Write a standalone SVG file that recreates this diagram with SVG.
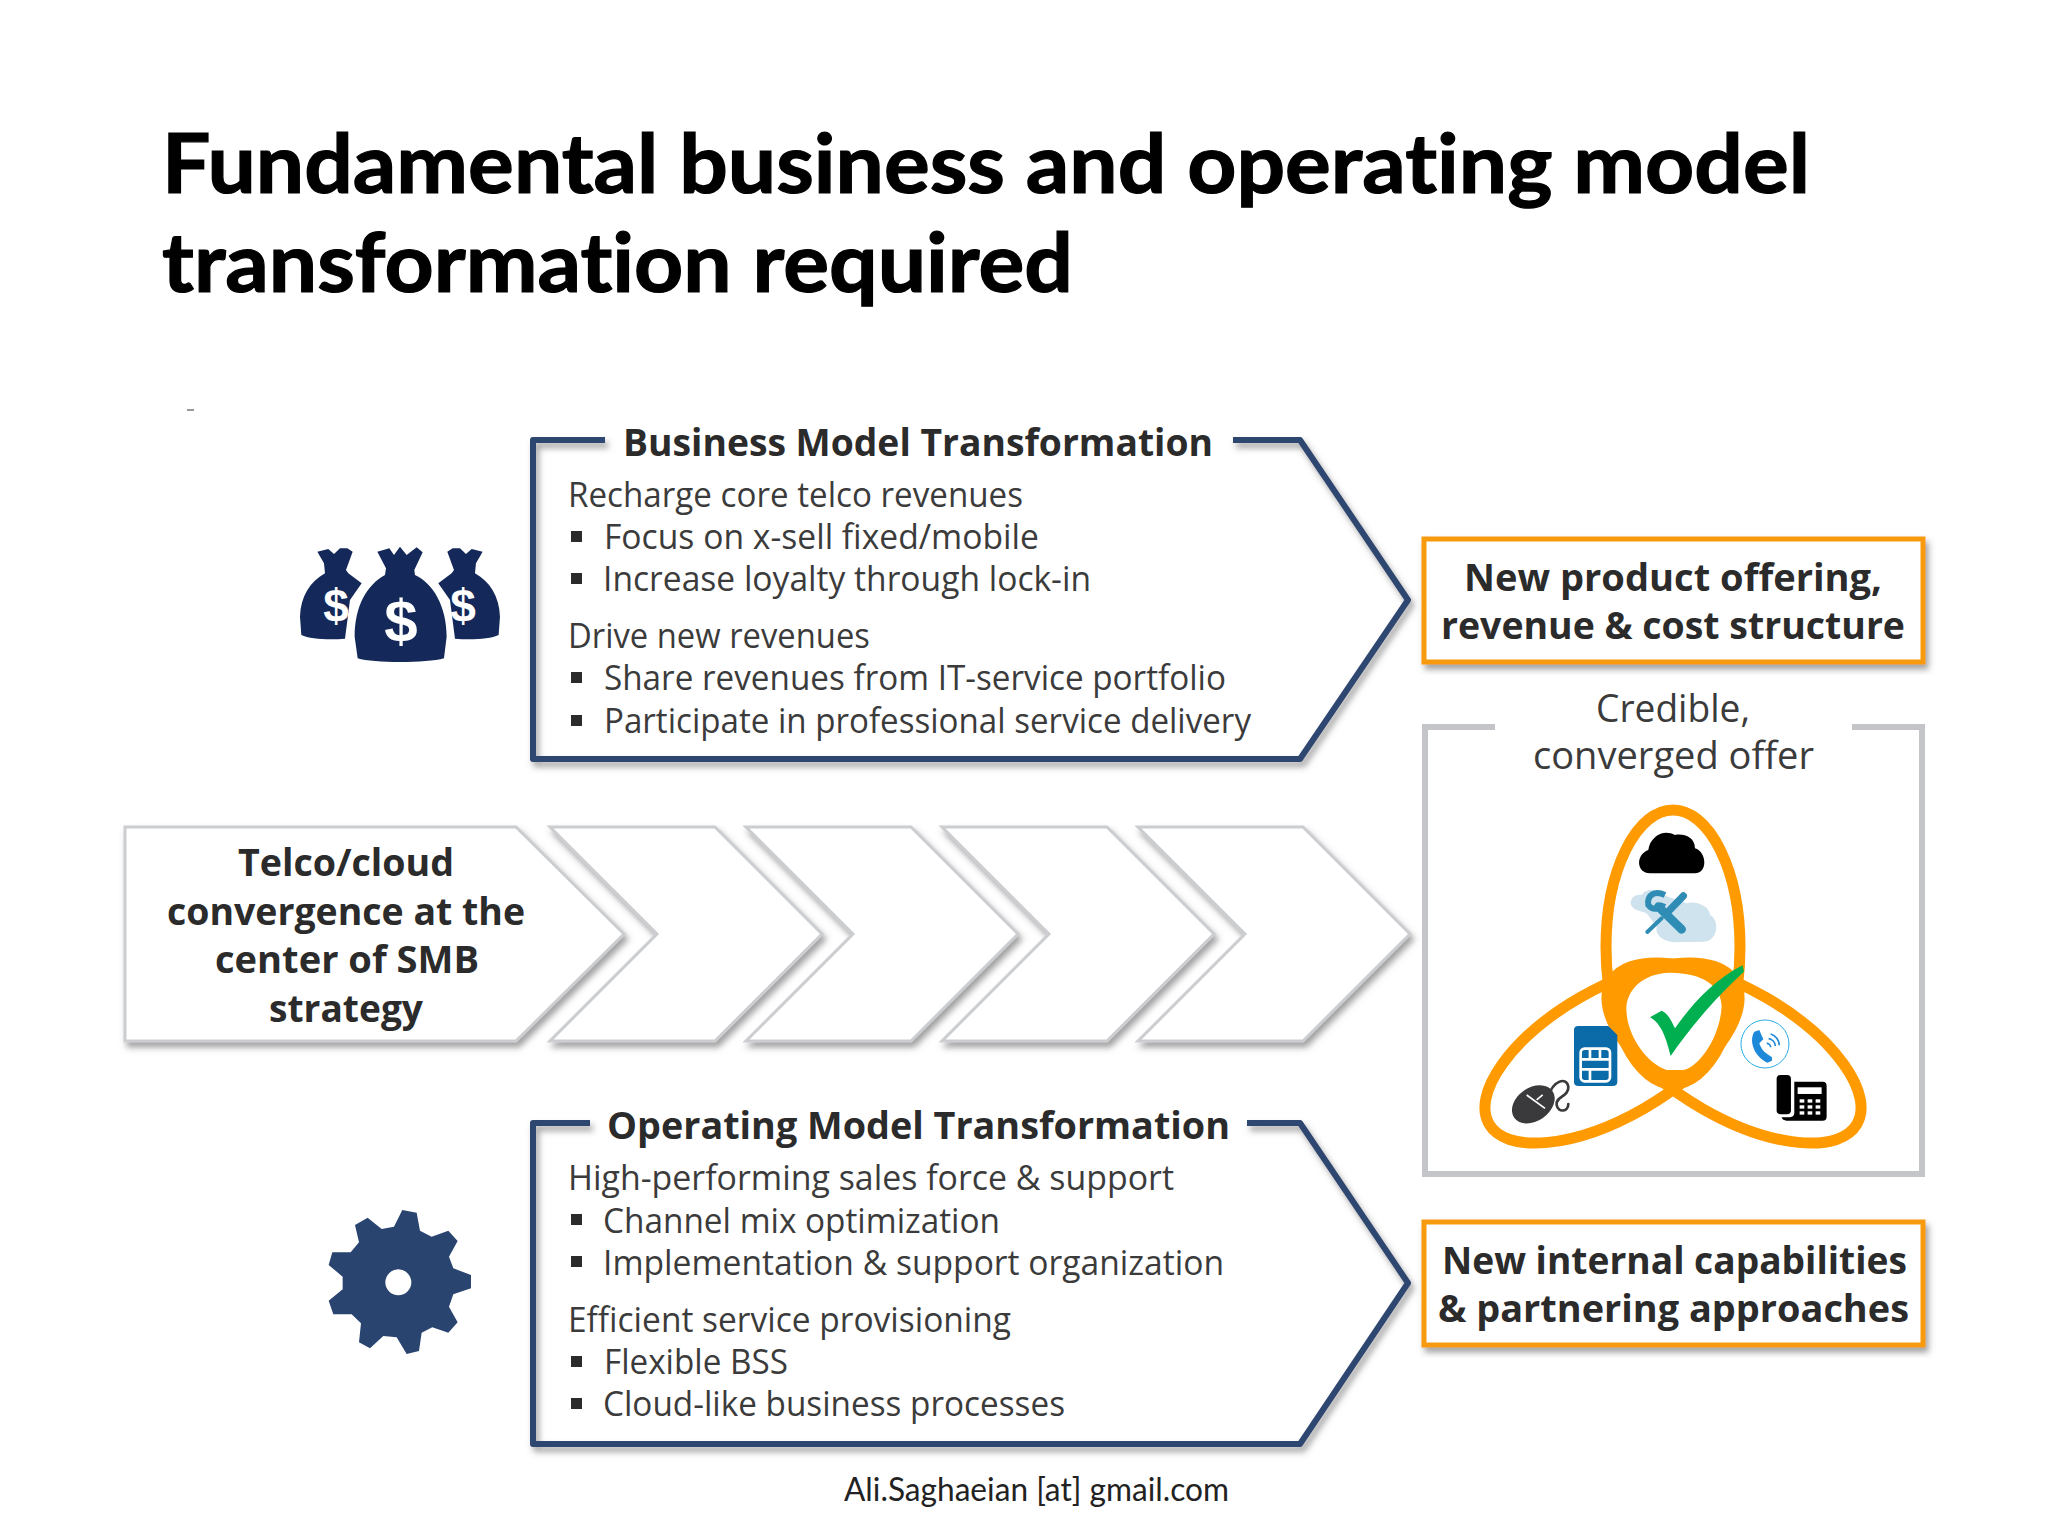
<svg xmlns="http://www.w3.org/2000/svg" width="2048" height="1536" viewBox="0 0 2048 1536">
<defs>
<filter id="sh" x="-5%" y="-5%" width="110%" height="115%"><feDropShadow dx="3" dy="5" stdDeviation="3" flood-color="#555" flood-opacity=".55"/></filter>
<path id="smallbag" d="M172 455L205 447L222 462L240 445L262 445L278 455L258 510L265 520L305 550L270 600L255 716C210 720 150 718 124 705L120 650C122 590 150 545 195 520L192 490Z"/>
</defs>
<style>
text{font-family:"Open Sans","Liberation Sans",sans-serif;fill:#2b2b2b}
.t{font-family:Lato,"Liberation Sans",sans-serif;font-weight:700;font-size:82px;fill:#000;stroke:#000;stroke-width:1.2;font-variant-ligatures:none}
.h{font-weight:700;font-size:37px}
.b{font-size:34px;fill:#3b3b3b}
.o{font-weight:700;font-size:38px}
.c{font-weight:700;font-size:37px}
.nav{fill:none;stroke:#2E4670;stroke-width:6;stroke-linejoin:round;filter:url(#sh)}
.chev{fill:#fff;stroke:#CBCDD0;stroke-width:3;filter:url(#sh)}
.org{fill:#fff;stroke:#F79A0E;stroke-width:5;filter:url(#sh)}
.ven{fill:none;stroke:#FF9A00;stroke-width:11}
.bul{fill:#2b2b2b}
.bag{fill:#14295A}
.dol{font-family:"Liberation Sans",sans-serif;font-weight:700;fill:#fff;text-anchor:middle}
</style>
<rect width="2048" height="1536" fill="#fff"/>
<g id="title">
<text class="t" x="162" y="193" textLength="1648" lengthAdjust="spacingAndGlyphs">Fundamental business and operating model</text>
<text class="t" x="162" y="292" textLength="911" lengthAdjust="spacingAndGlyphs">transformation required</text>
</g>
<rect x="187" y="409" width="7" height="2" fill="#999"/>
<g id="money-icon">
<g transform="translate(260 400) scale(.3333)">
<use href="#smallbag" class="bag"/>
<use href="#smallbag" class="bag" transform="translate(840 0) scale(-1 1)"/>
<path class="bag" stroke="#fff" stroke-width="30" paint-order="stroke" d="M352 455L388 445L402 465L420 440L440 465L470 442L488 457L463 510L465 525C520 550 560 620 560 710L552 775C500 790 340 790 293 775L284 710C284 620 320 555 375 525L378 505Z"/>
</g>
<text class="dol" x="336" y="622" font-size="46">$</text>
<text class="dol" x="463" y="622" font-size="46">$</text>
<text class="dol" x="401" y="642" font-size="60">$</text>
</g>
<g id="business-model">
<path class="nav" d="M605 440H533V759H1300L1408 600L1300 440H1233"/>
<text class="h" x="623" y="456" textLength="590" lengthAdjust="spacingAndGlyphs">Business Model Transformation</text>
<text class="b" x="568" y="507" textLength="455" lengthAdjust="spacingAndGlyphs">Recharge core telco revenues</text>
<rect class="bul" x="571" y="531" width="11" height="11"/>
<text class="b" x="604" y="549" textLength="435" lengthAdjust="spacingAndGlyphs">Focus on x-sell fixed/mobile</text>
<rect class="bul" x="571" y="573" width="11" height="11"/>
<text class="b" x="603" y="591" textLength="488" lengthAdjust="spacingAndGlyphs">Increase loyalty through lock-in</text>
<text class="b" x="568" y="648" textLength="302" lengthAdjust="spacingAndGlyphs">Drive new revenues</text>
<rect class="bul" x="571" y="672" width="11" height="11"/>
<text class="b" x="604" y="690" textLength="622" lengthAdjust="spacingAndGlyphs">Share revenues from IT-service portfolio</text>
<rect class="bul" x="571" y="715" width="11" height="11"/>
<text class="b" x="604" y="733" textLength="647" lengthAdjust="spacingAndGlyphs">Participate in professional service delivery</text>
</g>
<g id="chevrons">
<path id="chev5" class="chev" d="M1138 827H1303L1410 934L1303 1041H1138L1245 934Z"/>
<path id="chev4" class="chev" d="M942 827H1107L1214 934L1107 1041H942L1049 934Z"/>
<path id="chev3" class="chev" d="M746 827H911L1018 934L911 1041H746L853 934Z"/>
<path id="chev2" class="chev" d="M550 827H715L822 934L715 1041H550L657 934Z"/>
<path id="chev1" class="chev" d="M125 827H516L624 934L516 1041H125Z"/>
<text class="c" x="238" y="876" textLength="216" lengthAdjust="spacingAndGlyphs">Telco/cloud</text>
<text class="c" x="167" y="925" textLength="358" lengthAdjust="spacingAndGlyphs">convergence at the</text>
<text class="c" x="215" y="973" textLength="264" lengthAdjust="spacingAndGlyphs">center of SMB</text>
<text class="c" x="269" y="1022" textLength="154" lengthAdjust="spacingAndGlyphs">strategy</text>
</g>
<g id="operating-model">
<path class="nav" d="M590 1123H533V1444H1300L1408 1283L1300 1123H1247"/>
<text class="h" x="607" y="1139" textLength="623" lengthAdjust="spacingAndGlyphs">Operating Model Transformation</text>
<text class="b" x="568" y="1190" textLength="606" lengthAdjust="spacingAndGlyphs">High-performing sales force &amp; support</text>
<rect class="bul" x="571" y="1214" width="11" height="11"/>
<text class="b" x="603" y="1233" textLength="397" lengthAdjust="spacingAndGlyphs">Channel mix optimization</text>
<rect class="bul" x="571" y="1256" width="11" height="11"/>
<text class="b" x="603" y="1275" textLength="621" lengthAdjust="spacingAndGlyphs">Implementation &amp; support organization</text>
<text class="b" x="568" y="1332" textLength="443" lengthAdjust="spacingAndGlyphs">Efficient service provisioning</text>
<rect class="bul" x="571" y="1356" width="11" height="11"/>
<text class="b" x="604" y="1374" textLength="184" lengthAdjust="spacingAndGlyphs">Flexible BSS</text>
<rect class="bul" x="571" y="1398" width="11" height="11"/>
<text class="b" x="603" y="1416" textLength="462" lengthAdjust="spacingAndGlyphs">Cloud-like business processes</text>
</g>
<g id="gear-icon">
<path fill="#2A4470" fill-rule="evenodd" transform="translate(300 1180) scale(.3333)" d="M307 90L350 98L360 152L395 170L445 152L473 183L447 230L460 265L513 285L513 325L460 343L447 380L473 427L445 458L397 442L365 458L357 513L320 522L290 472L250 468L210 505L177 487L183 430L155 403L100 403L86 362L128 328L128 290L86 255L97 217L152 217L177 187L165 135L203 113L245 147L282 140ZM295 268A39 39 0 1 0 295 346A39 39 0 1 0 295 268Z"/>
</g>
<g id="new-product">
<rect class="org" x="1424" y="539" width="499" height="123"/>
<text class="o" x="1464" y="591" textLength="418" lengthAdjust="spacingAndGlyphs">New product offering,</text>
<text class="o" x="1441" y="639" textLength="464" lengthAdjust="spacingAndGlyphs">revenue &amp; cost structure</text>
</g>
<g id="new-internal">
<rect class="org" x="1424" y="1222" width="499" height="123"/>
<text class="o" x="1442" y="1274" textLength="465" lengthAdjust="spacingAndGlyphs">New internal capabilities</text>
<text class="o" x="1438" y="1322" textLength="471" lengthAdjust="spacingAndGlyphs">&amp; partnering approaches</text>
</g>
<g id="converged-offer">
<path d="M1495 727H1425V1174H1922V727H1852" fill="none" stroke="#C4C5C8" stroke-width="6"/>
<text class="b" x="1596" y="722" textLength="154" lengthAdjust="spacingAndGlyphs" style="font-size:38px">Credible,</text>
<text class="b" x="1533" y="769" textLength="281" lengthAdjust="spacingAndGlyphs" style="font-size:38px">converged offer</text>
<ellipse class="ven" cx="1673" cy="947" rx="67" ry="137"/>
<ellipse class="ven" cx="1612" cy="1053" rx="142" ry="64" transform="rotate(-30 1612 1053)"/>
<ellipse class="ven" cx="1734" cy="1053" rx="142" ry="64" transform="rotate(30 1734 1053)"/>
<g transform="translate(1420 780) scale(.3333)">
<path fill="#FF9A00" d="M565 620C590 570 680 548 760 548C840 548 920 570 950 610C955 720 850 900 760 925C670 900 560 720 565 620Z"/>
<path fill="#fff" d="M620 700C612 640 660 580 750 578C850 578 905 620 905 680C900 770 840 860 790 870L740 870C680 850 625 770 620 700Z"/>
<path fill="#000" d="M690 280C650 280 645 225 685 210C690 170 730 145 765 165C790 160 825 170 825 205C860 215 865 280 825 280Z"/>
<path fill="#CFE3EE" d="M650 390C620 380 630 340 665 345C680 320 720 330 730 345L800 370C830 360 870 380 870 405C900 420 895 485 850 485L760 487C720 480 705 460 710 440L680 400Z"/>
<path stroke="#2F8DB5" stroke-width="26" stroke-linecap="round" d="M715 380L785 448"/>
<path fill="none" stroke="#2F8DB5" stroke-width="18" d="M735 345C705 330 680 345 685 375C700 395 725 385 730 370"/>
<path stroke="#2F8DB5" stroke-width="22" stroke-linecap="round" d="M790 348L740 400"/>
<path stroke="#2F8DB5" stroke-width="12" stroke-linecap="round" d="M725 415L682 456"/>
<path fill="#00AF50" d="M690 712L725 692C745 700 755 725 765 745C810 680 880 600 968 556L972 575C900 640 820 730 752 828C740 780 725 730 690 712Z"/>
<path fill="#0B6BA8" d="M475 738H565L592 765V905Q592 918 578 918H476Q462 918 462 905V750Q462 738 475 738Z"/>
<g fill="none" stroke="#fff" stroke-width="8"><rect x="482" y="806" width="88" height="98" rx="12"/><path d="M482 838H570M510 806V838M540 806V838M482 868H570M510 868V904"/></g>
<ellipse cx="340" cy="973" rx="70" ry="50" fill="#3A3A3C" transform="rotate(-35 340 973)"/>
<path d="M320 945L375 985M350 960L368 945" stroke="#fff" stroke-width="5" fill="none"/>
<path fill="none" stroke="#3A3A3C" stroke-width="8" stroke-linecap="round" d="M385 950C400 900 440 890 445 920C448 950 405 950 410 975C415 1000 445 995 445 972"/>
<circle cx="1035" cy="792" r="72" fill="#fff" stroke="#29ABE2" stroke-width="3"/>
<path fill="#1E88D9" d="M1003 755L1018 750L1030 778L1018 790C1024 808 1034 818 1045 824L1056 832L1056 842L1042 848C1005 830 985 785 1003 755Z"/>
<path fill="none" stroke="#1E88D9" stroke-width="5" d="M1040 790A12 12 0 0 1 1052 802M1046 776A24 24 0 0 1 1066 798M1052 762A36 36 0 0 1 1078 796"/>
<rect x="1070" y="885" width="43" height="118" rx="12" fill="#000"/>
<path fill="#000" d="M1123 905H1208Q1220 905 1220 917V1010Q1220 1022 1208 1022H1100Q1088 1022 1085 1012H1110Q1123 1010 1123 998Z"/>
<rect x="1133" y="922" width="72" height="20" fill="#fff"/>
<g fill="#fff"><rect x="1139" y="958" width="14" height="10"/><rect x="1163" y="958" width="14" height="10"/><rect x="1187" y="958" width="14" height="10"/><rect x="1139" y="976" width="14" height="10"/><rect x="1163" y="976" width="14" height="10"/><rect x="1187" y="976" width="14" height="10"/><rect x="1139" y="994" width="14" height="10"/><rect x="1163" y="994" width="14" height="10"/><rect x="1187" y="994" width="14" height="10"/></g>
</g>
</g>
<text id="footer" x="844" y="1501" textLength="385" lengthAdjust="spacingAndGlyphs" style="font-family:Lato,'Liberation Sans',sans-serif;font-size:32px;fill:#222">Ali.Saghaeian [at] gmail.com</text>
</svg>
